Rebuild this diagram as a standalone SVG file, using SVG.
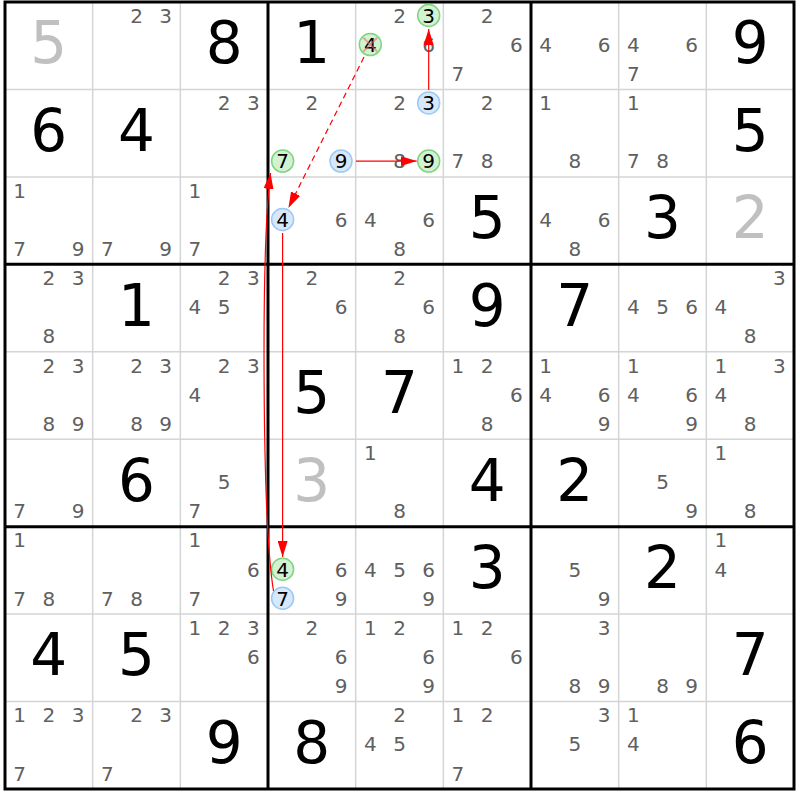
<svg xmlns="http://www.w3.org/2000/svg" width="800" height="800" viewBox="0 0 800 800">
<style>
text{font-family:"DejaVu Sans","Liberation Sans",sans-serif;text-anchor:middle}
.c{font-size:20px;fill:#606060}
.k{font-size:20px;fill:#000}
.b{font-size:58px;fill:#000}
.s{font-size:58px;fill:#c0c0c0}
.hg{fill:#d3f1d3;stroke:#7fd57f;stroke-width:1.5}
.hb{fill:#d7e8fb;stroke:#9bc9f5;stroke-width:1.5}
.thin{stroke:#d4d4d4;stroke-width:1.5}
.thick{stroke:#000;stroke-width:3}
.ln{stroke:#f00;stroke-width:1.2;fill:none}
.x{stroke:#f06060;stroke-opacity:0.55;stroke-width:2}
</style>
<defs>
<marker id="ah" markerUnits="userSpaceOnUse" markerWidth="16" markerHeight="10" viewBox="0 0 16 10" refX="16" refY="5" orient="auto"><path d="M0,0 L16,5 L0,10 z" fill="#f00"/></marker>
</defs>
<rect x="0" y="0" width="800" height="800" fill="#fff"/>
<g id="grid">
<g class="thin">
<line x1="92.67" y1="2" x2="92.67" y2="789"/><line x1="180.33" y1="2" x2="180.33" y2="789"/>
<line x1="355.67" y1="2" x2="355.67" y2="789"/><line x1="443.33" y1="2" x2="443.33" y2="789"/>
<line x1="618.67" y1="2" x2="618.67" y2="789"/><line x1="706.33" y1="2" x2="706.33" y2="789"/>
<line x1="5" y1="89.44" x2="794" y2="89.44"/><line x1="5" y1="176.88" x2="794" y2="176.88"/>
<line x1="5" y1="351.77" x2="794" y2="351.77"/><line x1="5" y1="439.2" x2="794" y2="439.2"/>
<line x1="5" y1="614.08" x2="794" y2="614.08"/><line x1="5" y1="701.5" x2="794" y2="701.5"/>
</g>
<g class="thick">
<line x1="268" y1="2" x2="268" y2="789"/><line x1="531" y1="2" x2="531" y2="789"/>
<line x1="5" y1="264.33" x2="794" y2="264.33"/><line x1="5" y1="526.64" x2="794" y2="526.64"/>
<rect x="5" y="2" width="789" height="787" fill="none"/>
</g>
</g>
<g id="r1c1"><text class="s" x="48.8" y="63.3">5</text></g>
<g id="r1c2"><text class="c" x="136.5" y="22.8">2</text><text class="c" x="165.7" y="22.8">3</text></g>
<g id="r1c3"><text class="b" x="224.1" y="63.3">8</text></g>
<g id="r1c4"><text class="b" x="311.8" y="63.3">1</text></g>
<g id="r1c5"><text class="c" x="399.5" y="22.8">2</text><circle class="hg" cx="428.7" cy="15.5" r="11"/><text class="k" x="428.7" y="22.8">3</text><circle class="hg" cx="370.3" cy="44.6" r="11"/><text class="k" x="370.3" y="51.9">4</text><line class="x" x1="363.3" y1="37.6" x2="377.3" y2="51.6"/><line class="x" x1="377.3" y1="37.6" x2="363.3" y2="51.6"/><text class="c" x="428.7" y="51.9">6</text></g>
<g id="r1c6"><text class="c" x="487.1" y="22.8">2</text><text class="c" x="516.3" y="51.9">6</text><text class="c" x="457.9" y="81">7</text></g>
<g id="r1c7"><text class="c" x="545.6" y="51.9">4</text><text class="c" x="604" y="51.9">6</text></g>
<g id="r1c8"><text class="c" x="633.3" y="51.9">4</text><text class="c" x="691.7" y="51.9">6</text><text class="c" x="633.3" y="81">7</text></g>
<g id="r1c9"><text class="b" x="750.1" y="63.3">9</text></g>
<g id="r2c1"><text class="b" x="48.8" y="150.7">6</text></g>
<g id="r2c2"><text class="b" x="136.5" y="150.7">4</text></g>
<g id="r2c3"><text class="c" x="224.1" y="110.2">2</text><text class="c" x="253.3" y="110.2">3</text></g>
<g id="r2c4"><text class="c" x="311.8" y="110.2">2</text><circle class="hg" cx="282.6" cy="161.1" r="11"/><text class="k" x="282.6" y="168.4">7</text><circle class="hb" cx="341" cy="161.1" r="11"/><text class="k" x="341" y="168.4">9</text></g>
<g id="r2c5"><text class="c" x="399.5" y="110.2">2</text><circle class="hb" cx="428.7" cy="102.9" r="11"/><text class="k" x="428.7" y="110.2">3</text><text class="c" x="399.5" y="168.4">8</text><circle class="hg" cx="428.7" cy="161.1" r="11"/><text class="k" x="428.7" y="168.4">9</text></g>
<g id="r2c6"><text class="c" x="487.1" y="110.2">2</text><text class="c" x="457.9" y="168.4">7</text><text class="c" x="487.1" y="168.4">8</text></g>
<g id="r2c7"><text class="c" x="545.6" y="110.2">1</text><text class="c" x="574.8" y="168.4">8</text></g>
<g id="r2c8"><text class="c" x="633.3" y="110.2">1</text><text class="c" x="633.3" y="168.4">7</text><text class="c" x="662.5" y="168.4">8</text></g>
<g id="r2c9"><text class="b" x="750.1" y="150.7">5</text></g>
<g id="r3c1"><text class="c" x="19.6" y="197.7">1</text><text class="c" x="19.6" y="255.9">7</text><text class="c" x="78" y="255.9">9</text></g>
<g id="r3c2"><text class="c" x="107.3" y="255.9">7</text><text class="c" x="165.7" y="255.9">9</text></g>
<g id="r3c3"><text class="c" x="194.9" y="197.7">1</text><text class="c" x="194.9" y="255.9">7</text></g>
<g id="r3c4"><circle class="hb" cx="282.6" cy="219.5" r="11"/><text class="k" x="282.6" y="226.8">4</text><text class="c" x="341" y="226.8">6</text></g>
<g id="r3c5"><text class="c" x="370.3" y="226.8">4</text><text class="c" x="428.7" y="226.8">6</text><text class="c" x="399.5" y="255.9">8</text></g>
<g id="r3c6"><text class="b" x="487.1" y="238.2">5</text></g>
<g id="r3c7"><text class="c" x="545.6" y="226.8">4</text><text class="c" x="604" y="226.8">6</text><text class="c" x="574.8" y="255.9">8</text></g>
<g id="r3c8"><text class="b" x="662.5" y="238.2">3</text></g>
<g id="r3c9"><text class="s" x="750.1" y="238.2">2</text></g>
<g id="r4c1"><text class="c" x="48.8" y="285.1">2</text><text class="c" x="78" y="285.1">3</text><text class="c" x="48.8" y="343.3">8</text></g>
<g id="r4c2"><text class="b" x="136.5" y="325.6">1</text></g>
<g id="r4c3"><text class="c" x="224.1" y="285.1">2</text><text class="c" x="253.3" y="285.1">3</text><text class="c" x="194.9" y="314.2">4</text><text class="c" x="224.1" y="314.2">5</text></g>
<g id="r4c4"><text class="c" x="311.8" y="285.1">2</text><text class="c" x="341" y="314.2">6</text></g>
<g id="r4c5"><text class="c" x="399.5" y="285.1">2</text><text class="c" x="428.7" y="314.2">6</text><text class="c" x="399.5" y="343.3">8</text></g>
<g id="r4c6"><text class="b" x="487.1" y="325.6">9</text></g>
<g id="r4c7"><text class="b" x="574.8" y="325.6">7</text></g>
<g id="r4c8"><text class="c" x="633.3" y="314.2">4</text><text class="c" x="662.5" y="314.2">5</text><text class="c" x="691.7" y="314.2">6</text></g>
<g id="r4c9"><text class="c" x="779.3" y="285.1">3</text><text class="c" x="720.9" y="314.2">4</text><text class="c" x="750.1" y="343.3">8</text></g>
<g id="r5c1"><text class="c" x="48.8" y="372.6">2</text><text class="c" x="78" y="372.6">3</text><text class="c" x="48.8" y="430.8">8</text><text class="c" x="78" y="430.8">9</text></g>
<g id="r5c2"><text class="c" x="136.5" y="372.6">2</text><text class="c" x="165.7" y="372.6">3</text><text class="c" x="136.5" y="430.8">8</text><text class="c" x="165.7" y="430.8">9</text></g>
<g id="r5c3"><text class="c" x="224.1" y="372.6">2</text><text class="c" x="253.3" y="372.6">3</text><text class="c" x="194.9" y="401.7">4</text></g>
<g id="r5c4"><text class="b" x="311.8" y="413.1">5</text></g>
<g id="r5c5"><text class="b" x="399.5" y="413.1">7</text></g>
<g id="r5c6"><text class="c" x="457.9" y="372.6">1</text><text class="c" x="487.1" y="372.6">2</text><text class="c" x="516.3" y="401.7">6</text><text class="c" x="487.1" y="430.8">8</text></g>
<g id="r5c7"><text class="c" x="545.6" y="372.6">1</text><text class="c" x="545.6" y="401.7">4</text><text class="c" x="604" y="401.7">6</text><text class="c" x="604" y="430.8">9</text></g>
<g id="r5c8"><text class="c" x="633.3" y="372.6">1</text><text class="c" x="633.3" y="401.7">4</text><text class="c" x="691.7" y="401.7">6</text><text class="c" x="691.7" y="430.8">9</text></g>
<g id="r5c9"><text class="c" x="720.9" y="372.6">1</text><text class="c" x="779.3" y="372.6">3</text><text class="c" x="720.9" y="401.7">4</text><text class="c" x="750.1" y="430.8">8</text></g>
<g id="r6c1"><text class="c" x="19.6" y="518.2">7</text><text class="c" x="78" y="518.2">9</text></g>
<g id="r6c2"><text class="b" x="136.5" y="500.5">6</text></g>
<g id="r6c3"><text class="c" x="224.1" y="489.1">5</text><text class="c" x="194.9" y="518.2">7</text></g>
<g id="r6c4"><text class="s" x="311.8" y="500.5">3</text></g>
<g id="r6c5"><text class="c" x="370.3" y="460">1</text><text class="c" x="399.5" y="518.2">8</text></g>
<g id="r6c6"><text class="b" x="487.1" y="500.5">4</text></g>
<g id="r6c7"><text class="b" x="574.8" y="500.5">2</text></g>
<g id="r6c8"><text class="c" x="662.5" y="489.1">5</text><text class="c" x="691.7" y="518.2">9</text></g>
<g id="r6c9"><text class="c" x="720.9" y="460">1</text><text class="c" x="750.1" y="518.2">8</text></g>
<g id="r7c1"><text class="c" x="19.6" y="547.4">1</text><text class="c" x="19.6" y="605.6">7</text><text class="c" x="48.8" y="605.6">8</text></g>
<g id="r7c2"><text class="c" x="107.3" y="605.6">7</text><text class="c" x="136.5" y="605.6">8</text></g>
<g id="r7c3"><text class="c" x="194.9" y="547.4">1</text><text class="c" x="253.3" y="576.5">6</text><text class="c" x="194.9" y="605.6">7</text></g>
<g id="r7c4"><circle class="hg" cx="282.6" cy="569.2" r="11"/><text class="k" x="282.6" y="576.5">4</text><text class="c" x="341" y="576.5">6</text><circle class="hb" cx="282.6" cy="598.3" r="11"/><text class="k" x="282.6" y="605.6">7</text><text class="c" x="341" y="605.6">9</text></g>
<g id="r7c5"><text class="c" x="370.3" y="576.5">4</text><text class="c" x="399.5" y="576.5">5</text><text class="c" x="428.7" y="576.5">6</text><text class="c" x="428.7" y="605.6">9</text></g>
<g id="r7c6"><text class="b" x="487.1" y="587.9">3</text></g>
<g id="r7c7"><text class="c" x="574.8" y="576.5">5</text><text class="c" x="604" y="605.6">9</text></g>
<g id="r7c8"><text class="b" x="662.5" y="587.9">2</text></g>
<g id="r7c9"><text class="c" x="720.9" y="547.4">1</text><text class="c" x="720.9" y="576.5">4</text></g>
<g id="r8c1"><text class="b" x="48.8" y="675.4">4</text></g>
<g id="r8c2"><text class="b" x="136.5" y="675.4">5</text></g>
<g id="r8c3"><text class="c" x="194.9" y="634.9">1</text><text class="c" x="224.1" y="634.9">2</text><text class="c" x="253.3" y="634.9">3</text><text class="c" x="253.3" y="664">6</text></g>
<g id="r8c4"><text class="c" x="311.8" y="634.9">2</text><text class="c" x="341" y="664">6</text><text class="c" x="341" y="693.1">9</text></g>
<g id="r8c5"><text class="c" x="370.3" y="634.9">1</text><text class="c" x="399.5" y="634.9">2</text><text class="c" x="428.7" y="664">6</text><text class="c" x="428.7" y="693.1">9</text></g>
<g id="r8c6"><text class="c" x="457.9" y="634.9">1</text><text class="c" x="487.1" y="634.9">2</text><text class="c" x="516.3" y="664">6</text></g>
<g id="r8c7"><text class="c" x="604" y="634.9">3</text><text class="c" x="574.8" y="693.1">8</text><text class="c" x="604" y="693.1">9</text></g>
<g id="r8c8"><text class="c" x="662.5" y="693.1">8</text><text class="c" x="691.7" y="693.1">9</text></g>
<g id="r8c9"><text class="b" x="750.1" y="675.4">7</text></g>
<g id="r9c1"><text class="c" x="19.6" y="722.3">1</text><text class="c" x="48.8" y="722.3">2</text><text class="c" x="78" y="722.3">3</text><text class="c" x="19.6" y="780.5">7</text></g>
<g id="r9c2"><text class="c" x="136.5" y="722.3">2</text><text class="c" x="165.7" y="722.3">3</text><text class="c" x="107.3" y="780.5">7</text></g>
<g id="r9c3"><text class="b" x="224.1" y="762.8">9</text></g>
<g id="r9c4"><text class="b" x="311.8" y="762.8">8</text></g>
<g id="r9c5"><text class="c" x="399.5" y="722.3">2</text><text class="c" x="370.3" y="751.4">4</text><text class="c" x="399.5" y="751.4">5</text></g>
<g id="r9c6"><text class="c" x="457.9" y="722.3">1</text><text class="c" x="487.1" y="722.3">2</text><text class="c" x="457.9" y="780.5">7</text></g>
<g id="r9c7"><text class="c" x="604" y="722.3">3</text><text class="c" x="574.8" y="751.4">5</text></g>
<g id="r9c8"><text class="c" x="633.3" y="722.3">1</text><text class="c" x="633.3" y="751.4">4</text></g>
<g id="r9c9"><text class="b" x="750.1" y="762.8">6</text></g>
<g id="connectors">
<line class="ln" x1="428.7" y1="90" x2="428.7" y2="29" marker-end="url(#ah)"/>
<line class="ln" x1="356" y1="161.1" x2="416.7" y2="161.1" marker-end="url(#ah)"/>
<line class="ln" x1="364" y1="57.1" x2="288.4" y2="207.9" stroke-dasharray="6 4" marker-end="url(#ah)"/>
<line class="ln" x1="282.6" y1="233" x2="282.6" y2="557" marker-end="url(#ah)"/>
<path class="ln" d="M273.5,591 C262,520 261,250 270.5,173" marker-end="url(#ah)"/>
</g>
</svg>
